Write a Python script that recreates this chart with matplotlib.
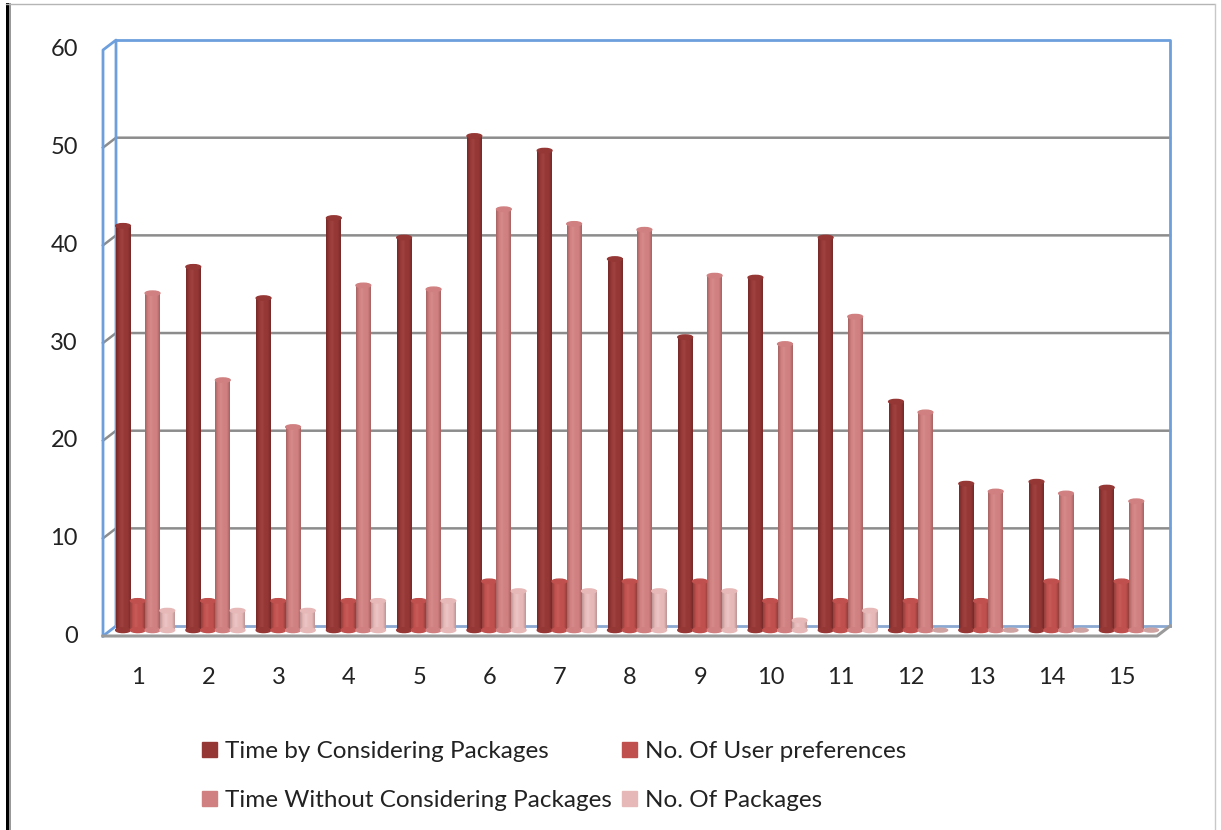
import numpy as np
import matplotlib
matplotlib.use("Agg")
import matplotlib.pyplot as plt
from matplotlib.colors import LinearSegmentedColormap
from matplotlib.lines import Line2D
from matplotlib.patches import Ellipse, Patch

plt.rcParams['font.family'] = ['Lato', 'DejaVu Sans']

categories = [str(i) for i in range(1, 16)]
time_with = [41.4, 37.2, 34, 42.2, 40.2, 50.6, 49.1, 38, 30, 36.1, 40.2, 23.4, 15, 15.2, 14.6]
user_prefs = [3, 3, 3, 3, 3, 5, 5, 5, 5, 3, 3, 3, 3, 5, 5]
time_without = [34.5, 25.6, 20.8, 35.3, 34.9, 43.1, 41.6, 41, 36.3, 29.3, 32.1, 22.3, 14.2, 14, 13.2]
packages = [2, 2, 2, 3, 3, 4, 4, 4, 4, 1, 2, 0, 0, 0, 0]
y_ticks = [0, 10, 20, 30, 40, 50, 60]

series = [
    ("Time by Considering Packages", time_with, "#953735", "#752a29", "#a04240"),
    ("No. Of User preferences", user_prefs, "#c0504d", "#94403d", "#c85a57"),
    ("Time Without Considering Packages", time_without, "#d08080", "#a86463", "#d68a8a"),
    ("No. Of Packages", packages, "#e6b9b8", "#bd9796", "#ecc6c5"),
]

W, H = 1221, 830
fig = plt.figure(figsize=(W / 100, H / 100), dpi=100, facecolor="white")
# axes = front plane of the fake 3d box
ax = fig.add_axes([103 / W, 1 - 636 / H, 1054 / W, 586 / H])
ax.set_axis_off()

DX, DY = 0.185, 1.02  # depth of the box, data units
xmin, xmax = -0.5, 14.5
x = np.arange(len(categories))
bar_w = 0.21

# back wall and side gridlines
for v in y_ticks[1:-1]:
    ax.plot([xmin, xmin + DX, xmax + DX], [v, v + DY, v + DY], color="#8c8c8c", lw=1.8, clip_on=False, zorder=1)
blue = "#6d9fdc"
ax.plot([xmin, xmin, xmin + DX, xmin + DX], [0, 60, 60 + DY, DY], color=blue, lw=2, clip_on=False, zorder=2)
ax.plot([xmin, xmin + DX], [0, DY], color=blue, lw=2, clip_on=False, zorder=2)
ax.plot([xmin + DX, xmax + DX, xmax + DX], [60 + DY, 60 + DY, DY], color=blue, lw=2, clip_on=False, zorder=2)
ax.plot([xmin + DX, xmax + DX], [DY, DY], color="#8aa8d0", lw=2, clip_on=False, zorder=2)
ax.plot([xmin, xmax, xmax + DX], [0, 0, DY], color="#9a9a9a", lw=2.2, clip_on=False, zorder=3)

# cylinders
base = 0.6
for k, (name, vals, col, dark, light) in enumerate(series):
    cmap = LinearSegmentedColormap.from_list(name, [dark, col, light, col, col, dark])
    offs = x + 0.1 + (k - 1.5) * bar_w
    z = 5 + k
    bars = ax.bar(offs, vals, bar_w, bottom=base, color=col, clip_on=False, zorder=z)
    for rect, v in zip(bars, vals):
        cx = rect.get_x() + bar_w / 2
        if v > 0:
            ax.imshow(np.linspace(0, 1, 32)[None, :], cmap=cmap, aspect="auto", zorder=z,
                      extent=(rect.get_x(), rect.get_x() + bar_w, base, base + v), clip_on=False)
            ax.add_patch(Ellipse((cx, base), bar_w, 0.5, color=col, zorder=z, clip_on=False))
            ax.add_patch(Ellipse((cx, base + v), bar_w, 0.45, color=col, zorder=z, clip_on=False))
        else:
            ax.add_patch(Ellipse((cx, base), bar_w, 0.4, color="#cfa3a2", zorder=z, clip_on=False))

ax.set_xlim(xmin, xmax)
ax.set_ylim(0, 60)

# tick labels, axis is off so they are plain text at data positions
for v in y_ticks:
    ax.annotate(str(v), (xmin, v), xytext=(-25, 0), textcoords="offset pixels", ha="right", va="center",
                fontsize=17, color="#222222", annotation_clip=False)
for pos, lab in zip(x, categories):
    ax.annotate(lab, (pos, 0), xytext=(0, -41), textcoords="offset pixels", ha="center", va="center",
                fontsize=17, color="#222222", annotation_clip=False)

handles = [Patch(facecolor=s[2], edgecolor=s[2]) for s in series]
labels = [s[0] for s in series]
order = [0, 2, 1, 3]
fig.legend([handles[i] for i in order], [labels[i] for i in order], ncol=2, frameon=False,
           loc="upper left", bbox_to_anchor=(195 / W, 1 - 734 / H), fontsize=17.5, labelcolor="#222222",
           handlelength=0.6, handleheight=0.6, handletextpad=0.34, columnspacing=0.42, labelspacing=1.15,
           borderpad=0.3, borderaxespad=0)

# image border
px = fig.transFigure
fig.add_artist(Line2D([7.5 / W, 7.5 / W], [0, 1 - 4 / H], color="black", lw=2.16, transform=px))
fig.add_artist(Line2D([10 / W, 10 / W], [0, 1 - 4 / H], color="#999999", lw=1.44, transform=px))
fig.add_artist(Line2D([6 / W, 1214 / W], [1 - 4.5 / H, 1 - 4.5 / H], color="#b5b5b5", lw=1, transform=px))
fig.add_artist(Line2D([1214.5 / W, 1214.5 / W], [0, 1 - 4 / H], color="#c8c8c8", lw=1, transform=px))

fig.savefig("out.png", dpi=100)
